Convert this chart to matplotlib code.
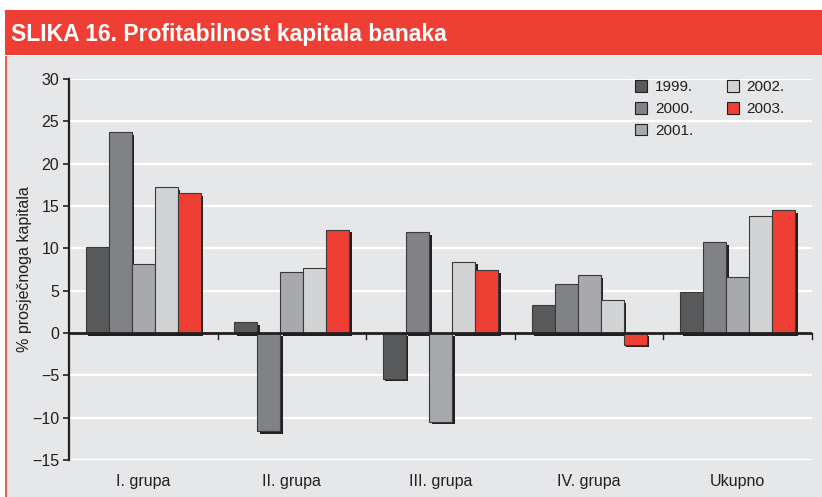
import matplotlib
matplotlib.use("Agg")
import matplotlib.pyplot as plt
from matplotlib.patches import Rectangle
import numpy as np

# data
groups = ["I. grupa", "II. grupa", "III. grupa", "IV. grupa", "Ukupno"]
years = ["1999.", "2000.", "2001.", "2002.", "2003."]
v1999 = [10.2, 1.3, -5.4, 3.3, 4.8]
v2000 = [23.7, -11.6, 11.9, 5.8, 10.7]
v2001 = [8.1, 7.2, -10.5, 6.8, 6.6]
v2002 = [17.2, 7.7, 8.4, 3.9, 13.8]
v2003 = [16.5, 12.2, 7.4, -1.4, 14.5]
yticks = [-15, -10, -5, 0, 5, 10, 15, 20, 25, 30]

series = [v1999, v2000, v2001, v2002, v2003]
colors = ["#58595b", "#808285", "#a7a9ac", "#d1d3d4", "#ef3e33"]
RED = "#ef3e33"
BG = "#e6e7e8"

plt.rcParams["font.family"] = ["Liberation Sans", "DejaVu Sans"]

W, H = 822, 497
fig = plt.figure(figsize=(W / 100, H / 100), dpi=100)
fig.patch.set_facecolor("white")

# grey panel + red border
fig.patches.append(Rectangle((5 / W, 0), 1, 1 - 56 / H, transform=fig.transFigure,
                             facecolor=BG, edgecolor="none", zorder=-2))
fig.patches.append(Rectangle((5 / W, 0), 2 / W, 1 - 56 / H, transform=fig.transFigure,
                             facecolor=RED, edgecolor="none", alpha=0.8, zorder=-1))
# header band
fig.patches.append(Rectangle((5 / W, 1 - 55 / H), 1, 45 / H, transform=fig.transFigure,
                             facecolor=RED, edgecolor="none", zorder=-1))
fig.text(11 / W, 1 - 34 / H, "SLIKA 16. Profitabilnost kapitala banaka", color="white",
         fontsize=16.5, fontweight="bold", va="center", ha="left")

ax = fig.add_axes([69 / W, 1 - 460 / H, (812 - 69) / W, (460 - 79) / H])
ax.set_facecolor(BG)

x = np.arange(len(groups))
bw = 0.155
dx = 0.017
dy = 0.3
for i, (vals, c) in enumerate(zip(series, colors)):
    pos = x + (i - 2) * bw
    # drop shadow
    ax.bar(pos + dx, vals, bw, bottom=-dy, color="#231f20", zorder=2, align="center")
    ax.bar(pos, vals, bw, color=c, edgecolor="#3a3a3a", linewidth=0.8, zorder=3,
           label=years[i])

ax.set_xlim(-0.5, 4.5)
ax.set_ylim(-15, 30)
ax.set_yticks(yticks)
ax.set_yticklabels([str(t).replace("-", "\u2212") for t in yticks])
for t in yticks:
    if t != 0:
        ax.axhline(t, color="white", linewidth=1.6, zorder=1)
ax.axhline(0, color="#231f20", linewidth=2, zorder=4)
for b in np.arange(0.5, 5, 1.0):
    ax.plot([b, b], [0, -0.7], color="#231f20", linewidth=1, zorder=4, clip_on=False)

for s in ["top", "right", "bottom"]:
    ax.spines[s].set_visible(False)
ax.spines["left"].set_color("#231f20")
ax.spines["left"].set_linewidth(1.6)
ax.tick_params(axis="y", direction="out", length=4, width=1.2, color="#231f20",
               labelsize=11.5, labelcolor="#231f20", pad=3)
ax.set_xticks(x)
ax.set_xticklabels(groups)
ax.tick_params(axis="x", length=0, labelsize=11.5, labelcolor="#231f20", pad=10)
ax.set_ylabel("% prosječnoga kapitala", fontsize=11.5, color="#231f20", labelpad=0)

leg = ax.legend(ncol=2, loc="upper left", bbox_to_anchor=(0.762, 0.997), frameon=False,
                fontsize=11, handlelength=0.8, handleheight=0.8, handletextpad=0.5,
                columnspacing=2.2, labelspacing=0.5, borderpad=0, borderaxespad=0)
for h in leg.legend_handles:
    h.set_edgecolor("#231f20")
    h.set_linewidth(0.8)
for t in leg.get_texts():
    t.set_color("#231f20")

fig.savefig("out.png", dpi=100)
